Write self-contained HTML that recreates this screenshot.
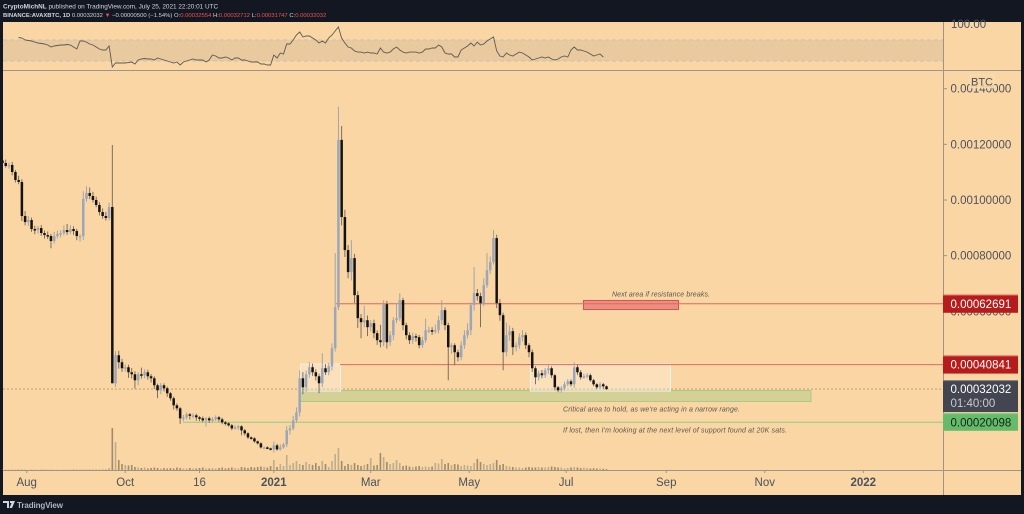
<!DOCTYPE html>
<html lang="en">
<head>
<meta charset="utf-8">
<title>AVAXBTC chart</title>
<style>
html,body{margin:0;padding:0;background:#131722;width:1024px;height:514px;overflow:hidden}
svg{display:block;font-family:"Liberation Sans",sans-serif}
</style>
</head>
<body>
<svg id="chart" xmlns="http://www.w3.org/2000/svg" width="1024" height="514" viewBox="0 0 1024 514">
  <defs><clipPath id="plot-clip"><rect x="3" y="71" width="940" height="399"/></clipPath></defs>
  <rect x="0" y="0" width="1024" height="514" fill="#131722"/>
  <rect x="3" y="22" width="1018" height="473" fill="#f9d6a3"/>
  <text x="3" y="8.500" font-size="6.400" fill="#d1d4dc"><tspan font-weight="bold">CryptoMichNL</tspan> published on TradingView.com, July 25, 2021 22:20:01 UTC</text>
  <text x="3" y="17" font-size="5.900" fill="#d1d4dc"><tspan font-weight="bold">BINANCE:AVAXBTC, 1D</tspan> 0.00032032 <tspan fill="#ef5350">▼</tspan> −0.00000500 (−1.54%) O:<tspan fill="#ef5350">0.00032554</tspan> H:<tspan fill="#ef5350">0.00032712</tspan> L:<tspan fill="#ef5350">0.00031747</tspan> C:<tspan fill="#ef5350">0.00032032</tspan></text>
  <g id="rsi-layer"></g>
  <g id="volume-layer"></g>
  <g id="annotation-layer"></g>
  <g id="candle-layer" clip-path="url(#plot-clip)"></g>
  <line x1="3" y1="70.5" x2="1021" y2="70.5" stroke="#9c958a" stroke-width="1"/>
  <line x1="3" y1="470.5" x2="1021" y2="470.5" stroke="#9c958a" stroke-width="1"/>
  <line x1="943.5" y1="22" x2="943.5" y2="495" stroke="#9c958a" stroke-width="1"/>
  <g id="axis-layer"></g>
  <g id="tag-layer"></g>
  <g>
    <rect x="970" y="75" width="24" height="13" fill="#f9d6a3" fill-opacity="0.85" stroke="#efe6d6" stroke-width="0.6"/>
    <text x="982" y="85.5" font-size="11" text-anchor="middle" fill="#4c525e">BTC</text>
  </g>
  <g>
    <path d="M3 501h6v7H7v-5H3zM10 501h5l-3 7h-2.500l2-5h-1.500z" fill="#d1d4dc"/>
    <text x="17" y="508" font-size="8" font-weight="bold" fill="#b2b5be" textLength="46" lengthAdjust="spacing">TradingView</text>
  </g>
</svg>
<script>
const startDate = Date.UTC(2020, 6, 17);
const closes = [113320,112240,112600,110080,107200,106480,94240,92080,92800,89560,
89200,89920,88120,87400,87040,85240,87040,87760,88120,89200,
88480,89560,88840,87040,87040,100360,102520,101440,100000,98200,
95680,94240,93520,97480,34120,44200,41680,39520,39880,38080,
37360,35200,37360,37000,38080,36640,35920,33400,31600,33400,
32320,30520,28720,26200,25120,21520,21880,22960,22600,22600,
21880,21520,20800,21520,20800,21160,21880,21160,20080,19720,
19000,17920,18280,18640,17200,16120,14680,14320,13240,12520,
11080,11080,10720,10360,11800,10360,11080,12160,17200,17920,
20800,23680,35920,32680,37360,39880,38080,36640,34120,39520,
38080,40240,46720,61480,121600,93880,82000,74080,79120,65800,
57520,56080,56800,54280,55720,52120,49600,48880,62560,48880,
51400,56800,57520,64000,55000,51400,49600,51040,50680,47800,
49600,53200,53200,52840,53200,56800,60400,55000,47080,47800,
45280,43480,47800,51400,53200,62200,66520,65440,62920,69400,
74800,77680,86320,62920,58600,45280,51400,52840,47080,47800,
50680,51400,47800,45280,39520,36280,37720,37000,38800,39520,
37000,32680,31600,32320,33760,34840,33760,39880,38080,36280,
36640,37000,35200,33760,32680,33760,33040,32032];
const upperWicks = [900,1200,800,1100,700,1500,1000,1800,1400,900,
1200,800,1100,900,1300,800,1500,1200,1000,1700,
2200,1400,1000,800,700,2800,2400,2000,1500,1200,
1000,1300,1500,1500,22300,1500,1600,1200,1000,900,
1500,1100,800,2400,1000,900,800,700,600,800,
700,600,500,600,700,500,900,600,500,700,
600,500,700,500,600,800,700,500,600,500,
400,500,800,500,400,500,400,300,400,300,
400,300,400,300,1400,600,1100,500,1500,1200,
1600,1800,2800,2200,1400,1800,1300,1100,900,5400,
1500,1200,1800,19440,11900,5000,2600,1800,6480,1500,
1400,1500,5200,1700,1100,1300,1000,5500,1440,1200,
1500,1100,5400,2520,800,900,1000,1200,900,800,
1300,4200,1300,1100,2000,1600,3600,1000,900,800,
700,900,1500,1800,2500,1000,9360,1500,1200,2400,
6120,2000,2880,1200,1500,900,4500,2000,1200,1000,
1400,1800,1000,700,1000,700,1000,1200,800,1600,
700,500,500,800,900,800,700,1800,1000,800,
900,800,600,500,400,800,500,300];
const lowerWicks = [800,600,1000,1200,900,800,1800,1200,1400,1000,
1500,1200,1000,1300,1100,2600,900,800,1200,800,
1000,800,1400,1500,2000,1500,1000,1100,900,800,
1200,1000,900,800,0,1300,2300,1300,1200,2000,
1500,3000,1800,1200,1100,1200,1500,1300,2800,1400,
1100,1300,900,1500,900,2000,1000,800,1500,1100,
1200,1000,700,2200,900,800,600,900,700,800,
500,700,500,900,1800,700,600,500,500,400,
400,500,300,400,1200,500,400,500,1000,1500,
700,900,1500,2500,1600,1200,1300,1500,3600,1400,
1000,1100,1500,1200,1000,3000,2500,2200,3000,2800,
3500,5760,1800,3200,1500,1800,1700,1800,1400,2300,
1300,1800,1100,1000,1800,1500,1400,1300,1600,1100,
1000,900,1000,1300,900,1200,1500,1800,11880,2400,
4680,1500,1100,1300,1200,1800,2000,1600,8640,1200,
1000,1300,900,1800,2000,6480,1500,2000,2800,1500,
1200,1500,1400,1800,1300,2500,1200,1100,1000,1300,
1000,1100,700,900,800,700,800,1300,1000,800,
600,800,500,700,700,500,900,300];
const volumes = [3,2,3,2,2,3,4,3,2,3,
2,2,3,3,2,3,2,3,2,3,
2,3,4,3,4,6,5,4,3,3,
3,4,5,20,420,280,100,60,50,45,
50,30,25,20,25,15,20,25,20,15,
20,15,20,15,25,20,15,15,20,15,
15,20,25,15,15,20,15,20,25,15,
20,25,20,15,30,25,20,30,25,30,
35,30,25,40,100,30,60,40,150,50,
70,90,60,50,80,60,50,70,40,90,
60,30,90,160,220,90,40,60,50,70,
50,40,50,60,120,45,50,170,130,80,
60,70,100,70,40,45,35,30,35,40,
30,35,30,35,70,65,110,60,70,50,
60,55,40,50,45,40,70,110,80,60,
50,60,70,100,50,60,40,35,30,25,
25,20,25,30,25,25,30,25,25,30,
35,30,25,25,15,20,25,30,25,20,
25,20,15,18,15,15,12,8];
const rsiValues = [null,null,null,null,null,74.8,73.8,70,69,68,
66,64.3,63.3,62.4,60.5,56.7,58.6,59.5,60.5,60.5,
61.5,60.5,56.7,52.9,68,68,66,62.4,60.5,56.7,
52.9,51,51,58.6,18.6,26.2,26.2,26.2,26.2,27.1,
28.1,24.3,31.9,33.8,34.8,33.8,33.8,31.9,35.7,33.8,
31.9,30,28.1,26.2,28.1,22.4,28.1,30,31.9,33.8,
31.9,31.9,31.9,28.1,31.9,41.4,39.5,35.7,35.7,37.6,
35.7,31.9,35.7,35.7,31.9,31.9,30,28.1,28.1,28.1,
24.3,24.3,22.4,22.4,41.4,35.7,45.2,43.3,62.4,62.4,
70,79.5,85.2,75.7,77.6,77.6,73.8,70,64.3,68,
64.3,73.8,79.5,87.2,94.8,73.8,64.3,56.7,54.8,49,
47,47,45.2,47,45.2,45.2,43.3,54.8,47,45.2,
47,52.9,56.7,51,47,45.2,47,47,47,45.2,
47,52.9,52.9,54.8,54.8,60.5,56.7,45.2,43.3,43.3,
37.6,37.6,51,54.8,58.6,64.3,58.6,66,60.5,62.4,
68,71.9,75.7,49,39.5,37.6,45.2,41.4,39.5,43.3,
47,45.2,41.4,37.6,31.9,33.8,35.7,37.6,35.7,37.6,
33.8,31.9,33.8,37.6,39.5,37.6,51,56.7,51,51,
49,47,43.3,39.5,41.4,43.3,37.6,null];
const priceTicks = [140000,120000,100000,80000,60000,40000,20000];
const rsiTickLabels = ["100.00"];
const rsiTickValues = [100];
const rsiBandValues = [70,30];
const timeTickLabels = ["Aug","Oct","16","2021","Mar","May","Jul","Sep","Nov","2022"];
const timeTickDates = ["2020-08-01","2020-10-01","2020-11-16","2021-01-01","2021-03-02","2021-05-02","2021-07-01","2021-09-01","2021-11-01","2022-01-01"];
const timeTickBold = ["2021","2022"];
const resistanceLevel = 62691;
const rangeTopLevel = 40841;
const lastPrice = 32032;
const supportLevel = 20098;
const countdown = "01:40:00";
const volumeScalePerUnit = 0.1;

const NS = "http://www.w3.org/2000/svg";
function xDay(d){ return 2.5 + 1.615 * d; }
function xIndex(i){ return xDay(i * 2); }
function xDate(s){ return xDay((Date.parse(s + "T00:00:00Z") - startDate) / 86400000); }
function yPrice(v){ return 200 - (v - 100000) * 0.002782; }
function yRsi(v){ return 61 + (30 - v) * 0.525; }
function yVol(v){ return 470 - v * volumeScalePerUnit; }
function fmt(v){ return (v / 1e8).toFixed(8); }
function mk(tag, parent, attrs){
  const e = document.createElementNS(NS, tag);
  for (const k in attrs) e.setAttribute(k, attrs[k]);
  parent.appendChild(e);
  return e;
}
const rsiG = document.getElementById("rsi-layer");
const volG = document.getElementById("volume-layer");
const annG = document.getElementById("annotation-layer");
const canG = document.getElementById("candle-layer");
const axG = document.getElementById("axis-layer");
const tagG = document.getElementById("tag-layer");

/* RSI */
const band = mk("rect", rsiG, {x:3, y:yRsi(rsiBandValues[0]), width:940, height:yRsi(rsiBandValues[1])-yRsi(rsiBandValues[0]), fill:"#9a8a8a", "fill-opacity":"0.17"});


rsiBandValues.forEach(function(v){
  const l = mk("line", rsiG, {x1:3, x2:943, y1:yRsi(v), y2:yRsi(v), stroke:"#c8c2b6", "stroke-width":1, "stroke-dasharray":"4 3"});
  
  
});
let rsiPts = [];
rsiValues.forEach(function(v, i){ if (v !== null) rsiPts.push(xIndex(i).toFixed(1) + "," + yRsi(v).toFixed(1)); });
const rsiLine = mk("polyline", rsiG, {points:rsiPts.join(" "), fill:"none", stroke:"#5d5a55", "stroke-width":0.9});



/* Volume */
volumes.forEach(function(v, i){
  const up = i === 0 ? true : closes[i] >= closes[i-1];
  const r = mk("rect", volG, {x:xIndex(i)-0.8, y:yVol(v), width:1.6, height:470-yVol(v), fill:up ? "#bdad90" : "#a08c68"});
  
  
});

/* Annotations */
function hline(name, x1, level, color){
  const l = mk("line", annG, {x1:x1, x2:943, y1:yPrice(level), y2:yPrice(level), stroke:color, "stroke-width":1});
  
  
}
const lastLine = mk("line", annG, {x1:3, x2:943, y1:yPrice(lastPrice), y2:yPrice(lastPrice), stroke:"#b5976f", "stroke-width":0.8, "stroke-dasharray":"2 2"});


function box(name, x, y, w, h, fill, op, stroke){
  const r = mk("rect", annG, {x:x, y:y, width:w, height:h, fill:fill, "fill-opacity":op, stroke:stroke, "stroke-width":1});
  
  
}
box("support-zone", 300, 390.5, 511, 11, "#b7cc8c", 0.55, "#aacb85");
box("range-box-left", 300.5, yPrice(rangeTopLevel)-0.5, 40, 27, "#ffffff", 0.28, "#f6efe4");
box("range-box-right", 530.5, yPrice(rangeTopLevel)-0.5, 140, 27, "#ffffff", 0.28, "#f6efe4");
box("resistance-target-box", 583.5, 300.5, 95, 9, "#e57373", 0.72, "#d9534f");
hline("resistance-line", 336, resistanceLevel, "#e2685a");
hline("range-top-line", 340, rangeTopLevel, "#e2685a");
hline("support-line", 183, supportLevel, "#8fce84");
function note(name, x, y, w, s){
  const t = mk("text", annG, {x:x, y:y, "font-size":7, "font-style":"italic", fill:"#5a5650", textLength:w, lengthAdjust:"spacing"});
  t.textContent = s;
  
  
}
note("resistance-note", 612, 296.500, 98, "Next area if resistance breaks.");
note("critical-area-note", 563, 411.500, 177, "Critical area to hold, as we're acting in a narrow range.");
note("support-note", 563, 432.500, 224, "If lost, then I'm looking at the next level of support found at 20K sats.");

/* Candles */
closes.forEach(function(c, i){
  const o = i === 0 ? c + 900 : closes[i-1];
  const up = c >= o;
  const top = Math.max(o, c), bot = Math.min(o, c);
  const x = xIndex(i);
  const w = mk("line", canG, {x1:x, x2:x, y1:yPrice(top + upperWicks[i]), y2:yPrice(bot - lowerWicks[i]), stroke:up ? "#9aa0a8" : "#6d6558", "stroke-width":0.9});
  
  
  const b = mk("rect", canG, {x:x-1.25, y:yPrice(top), width:2.5, height:Math.max(1.5, yPrice(bot)-yPrice(top)), fill:up ? "#9ba6bb" : "#14120f"});
  
  
});

/* Axes */
priceTicks.forEach(function(v){
  const y = yPrice(v);
  const tk = mk("line", axG, {x1:943, x2:947, y1:y, y2:y, stroke:"#9c958a", "stroke-width":1});
  
  
  const t = mk("text", axG, {x:950.500, y:y+4, "font-size":11.500, fill:"#4c525e"});
  t.textContent = fmt(v);
  
  
});
rsiTickValues.forEach(function(v, i){
  const t = mk("text", axG, {x:951, y:yRsi(v)+3.5, "font-size":11.500, fill:"#4c525e"});
  t.textContent = rsiTickLabels[i];
  
  
});
timeTickLabels.forEach(function(s, i){
  const x = xDate(timeTickDates[i]);
  const tk = mk("line", axG, {x1:x, x2:x, y1:470, y2:473, stroke:"#9c958a", "stroke-width":1});
  
  
  const bold = timeTickBold.indexOf(s) >= 0;
  const t = mk("text", axG, {x:x, y:486, "font-size":11.500, "text-anchor":"middle", fill:"#4c525e", "font-weight":bold ? "bold" : "normal"});
  t.textContent = s;
  
  
});

/* Price tags */
function tag(name, level, h, bg, fg, edge, extra){
  const y = yPrice(level);
  const top = y - 9;
  const r = mk("rect", tagG, {x:943, y:top, width:75, height:h, fill:bg});
  
  
  const e = mk("rect", tagG, {x:943, y:top, width:75, height:1, fill:edge});
  
  
  const t = mk("text", tagG, {x:950.500, y:y+4, "font-size":11.500, fill:fg});
  t.textContent = fmt(level);
  
  
  if (extra) {
    const c = mk("text", tagG, {x:950.500, y:y+18, "font-size":11.500, fill:"#c9cbd1"});
    c.textContent = extra;
    
    
  }
}
tag("resistance-price-tag", resistanceLevel, 18, "#b71c1c", "#ffffff", "#d9534f");
tag("range-top-price-tag", rangeTopLevel, 18, "#b71c1c", "#ffffff", "#d9534f");
tag("last-price-tag", lastPrice, 32, "#434651", "#ffffff", "#8c8a84", countdown);
tag("support-price-tag", supportLevel, 17.500, "#66bb6a", "#10261a", "#7ccc80");
</script>
</body>
</html>
